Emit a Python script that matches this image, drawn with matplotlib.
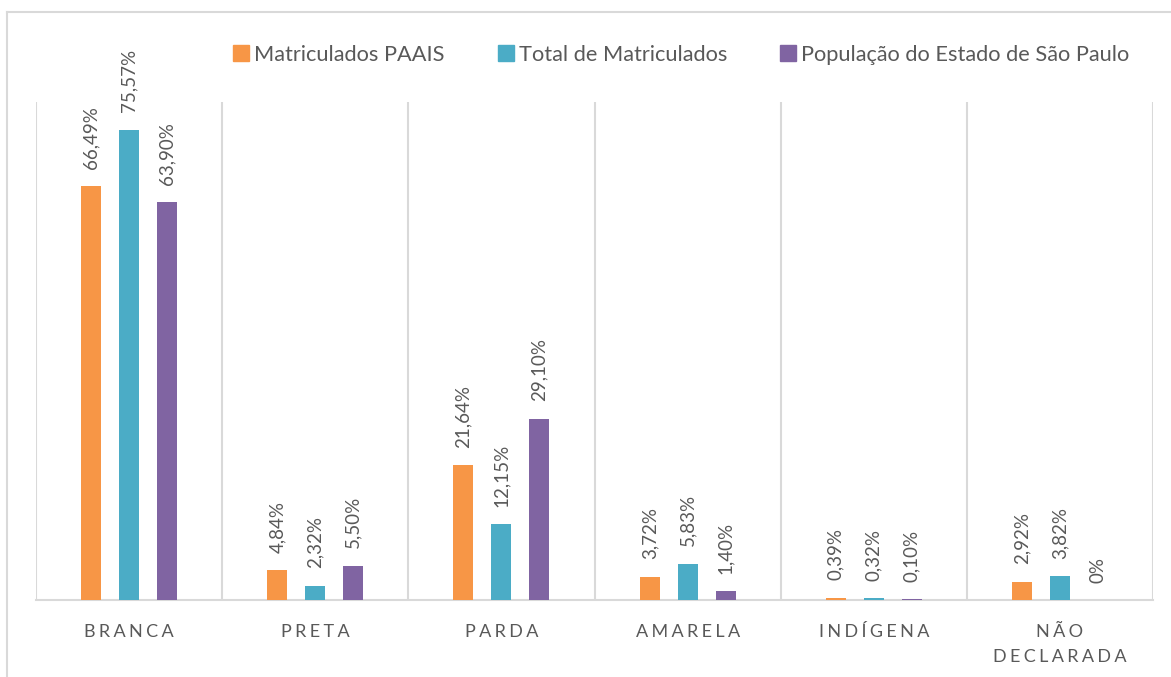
import matplotlib
matplotlib.use("Agg")
import matplotlib.pyplot as plt
from matplotlib.lines import Line2D
import numpy as np

categories = ["BRANCA", "PRETA", "PARDA", "AMARELA", "INDÍGENA", "NÃO\nDECLARADA"]
series_names = ["Matriculados PAAIS", "Total de Matriculados", "População do Estado de São Paulo"]
paais = [66.49, 4.84, 21.64, 3.72, 0.39, 2.92]
total = [75.57, 2.32, 12.15, 5.83, 0.32, 3.82]
populacao = [63.90, 5.50, 29.10, 1.40, 0.10, 0.0]
labels_paais = ["66,49%", "4,84%", "21,64%", "3,72%", "0,39%", "2,92%"]
labels_total = ["75,57%", "2,32%", "12,15%", "5,83%", "0,32%", "3,82%"]
labels_pop = ["63,90%", "5,50%", "29,10%", "1,40%", "0,10%", "0%"]

colors = ["#F79646", "#4BACC6", "#8064A2"]
text_color = "#595959"
grid_color = "#D9D9D9"

plt.rcParams['font.family'] = ['Lato', 'DejaVu Sans']

fig = plt.figure(figsize=(11.71, 6.77), dpi=100)
ax = fig.add_axes([36/1171, 77/677, (1153-36)/1171, (600-102)/677])

x = np.arange(len(categories))
width = 0.107
offset = 0.204
series = [paais, total, populacao]
labels = [labels_paais, labels_total, labels_pop]
for i, (vals, labs, c, name) in enumerate(zip(series, labels, colors, series_names)):
    bars = ax.bar(x + (i - 1) * offset, vals, width, color=c, label=name, zorder=3)
    for b, lab in zip(bars, labs):
        ax.annotate(lab, (b.get_x() + b.get_width() / 2, b.get_height()),
                    xytext=(0, 12.5), textcoords="offset points", rotation=90,
                    ha="center", va="bottom", fontsize=13.5, color=text_color)

ax.set_xlim(-0.5, len(categories) - 0.5)
ax.set_ylim(0, 80)
ax.set_yticks([])

def spaced(s):
    return "\n".join("\u2009\u200a".join(list(line)) for line in s.split("\n"))

ax.set_xticks(x)
ax.set_xticklabels([spaced(c) for c in categories], fontsize=13, color=text_color,
                   linespacing=1.75, va="top")
ax.tick_params(axis="x", length=0, pad=17)
ax.set_xticks(np.arange(len(categories) + 1) - 0.5, minor=True)
ax.tick_params(axis="x", which="minor", length=0)
ax.grid(True, which="minor", axis="x", color=grid_color, linewidth=1.5, zorder=0)
ax.grid(False, which="major")

for side in ["top", "right", "left"]:
    ax.spines[side].set_visible(False)
ax.spines["bottom"].set_color(grid_color)
ax.spines["bottom"].set_linewidth(1.5)

handles = [Line2D([0], [0], marker="s", linestyle="", markersize=12,
                  markerfacecolor=c, markeredgecolor=c) for c in colors]
fig.legend(handles, series_names, loc="center", bbox_to_anchor=(680/1171, 1 - 55/677),
           ncol=3, frameon=False, fontsize=15.7, labelcolor=text_color,
           handletextpad=0.1, columnspacing=2.3, handlelength=1.0)

# outer chart border
fig.add_artist(Line2D([7/1171, 1], [1 - 12/677, 1 - 12/677], transform=fig.transFigure,
                      color=grid_color, linewidth=1.5))
fig.add_artist(Line2D([7/1171, 7/1171], [0, 1 - 12/677], transform=fig.transFigure,
                      color=grid_color, linewidth=1.5))

fig.savefig("out.png", dpi=100)
